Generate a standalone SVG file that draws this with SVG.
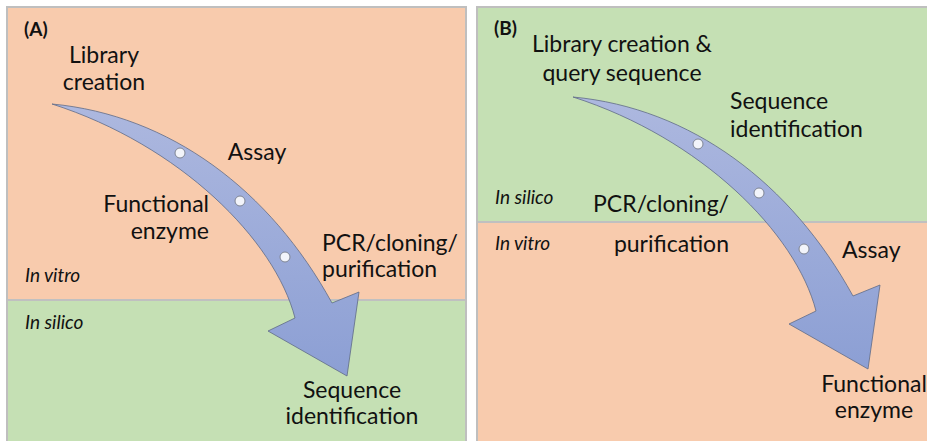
<svg xmlns="http://www.w3.org/2000/svg" width="927" height="441" viewBox="0 0 927 441">
  <defs>
    <linearGradient id="arrowFill" x1="0" y1="0" x2="0" y2="1">
      <stop offset="0" stop-color="#adb8df"/>
      <stop offset="1" stop-color="#8c9fd4"/>
    </linearGradient>
    <!-- curved process arrow, shared by both panels -->
    <path id="flowArrow" d="M52,104 C170,115 270,190 332,303 L359,292 L347,376 L268,331 L295,318 C275,240 180,145 52,104 Z"/>
  </defs>
  <style>
    .vitro { fill: #f8cbad; }
    .silico { fill: #c5e0b4; }
    .frame { fill: none; stroke: #bfbfbf; stroke-width: 2; }
    .divider { stroke: #c0c0c0; stroke-width: 2; }
    .arrow { fill: url(#arrowFill); stroke: #5f6b86; stroke-width: 0.8; }
    .dot { fill: #f2f4fa; stroke: #7f8594; stroke-width: 1; }
    .label { font-family: Lato, "Open Sans", sans-serif; font-size: 23px; fill: #111; }
    .zone { font-family: Lato, "Open Sans", sans-serif; font-size: 19px; font-style: italic; fill: #111; }
    .tag { font-family: Lato, "Open Sans", sans-serif; font-size: 19px; font-weight: bold; fill: #111; }
  </style>

  <rect width="927" height="441" fill="#ffffff"/>

  <!-- Panel A: in vitro first, then in silico -->
  <g id="panelA">
    <rect class="vitro" x="7" y="7" width="459" height="293"/>
    <rect class="silico" x="7" y="300" width="459" height="145"/>
    <line class="divider" x1="7" y1="300" x2="466" y2="300"/>
    <rect class="frame" x="7" y="7" width="459" height="440"/>
    <text class="tag" x="24" y="36">(A)</text>
    <text class="zone" x="25" y="282">In vitro</text>
    <text class="zone" x="25" y="329">In silico</text>
  </g>

  <!-- Panel B: in silico first, then in vitro -->
  <g id="panelB">
    <rect class="silico" x="477" y="7" width="455" height="215"/>
    <rect class="vitro" x="477" y="222" width="455" height="223"/>
    <line class="divider" x1="477" y1="222" x2="932" y2="222"/>
    <rect class="frame" x="477" y="7" width="455" height="440"/>
    <text class="tag" x="494" y="35">(B)</text>
    <text class="zone" x="495" y="204">In silico</text>
    <text class="zone" x="495" y="250">In vitro</text>
  </g>

  <g id="connectors">
    <use href="#flowArrow" class="arrow"/>
    <use href="#flowArrow" class="arrow" transform="translate(521,-7)"/>
  </g>

  <!-- Panel A steps -->
  <g id="a-library">
    <text class="label" text-anchor="middle" x="104" y="63">Library</text>
    <text class="label" text-anchor="middle" x="104" y="90">creation</text>
  </g>
  <g id="a-assay">
    <circle class="dot" cx="180" cy="153" r="5"/>
    <text class="label" text-anchor="middle" x="257" y="160">Assay</text>
  </g>
  <g id="a-enzyme">
    <circle class="dot" cx="240" cy="201" r="5"/>
    <text class="label" text-anchor="end" x="209" y="212">Functional</text>
    <text class="label" text-anchor="end" x="209" y="239">enzyme</text>
  </g>
  <g id="a-pcr">
    <circle class="dot" cx="285" cy="257" r="5"/>
    <text class="label" x="322" y="251">PCR/cloning/</text>
    <text class="label" x="322" y="277">purification</text>
  </g>
  <g id="a-sequence">
    <text class="label" text-anchor="middle" x="352" y="398">Sequence</text>
    <text class="label" text-anchor="middle" x="352" y="424">identification</text>
  </g>

  <!-- Panel B steps -->
  <g id="b-library">
    <text class="label" text-anchor="middle" x="622" y="52">Library creation &amp;</text>
    <text class="label" text-anchor="middle" x="622" y="81">query sequence</text>
  </g>
  <g id="b-sequence">
    <circle class="dot" cx="698" cy="144" r="5"/>
    <text class="label" x="730" y="109">Sequence</text>
    <text class="label" x="730" y="137">identification</text>
  </g>
  <g id="b-pcr">
    <circle class="dot" cx="759" cy="193" r="5"/>
    <text class="label" text-anchor="end" x="729" y="212">PCR/cloning/</text>
    <text class="label" text-anchor="end" x="729" y="252">purification</text>
  </g>
  <g id="b-assay">
    <circle class="dot" cx="804" cy="249" r="5"/>
    <text class="label" x="842" y="258">Assay</text>
  </g>
  <g id="b-enzyme">
    <text class="label" text-anchor="middle" x="874" y="392">Functional</text>
    <text class="label" text-anchor="middle" x="874" y="418">enzyme</text>
  </g>
</svg>
